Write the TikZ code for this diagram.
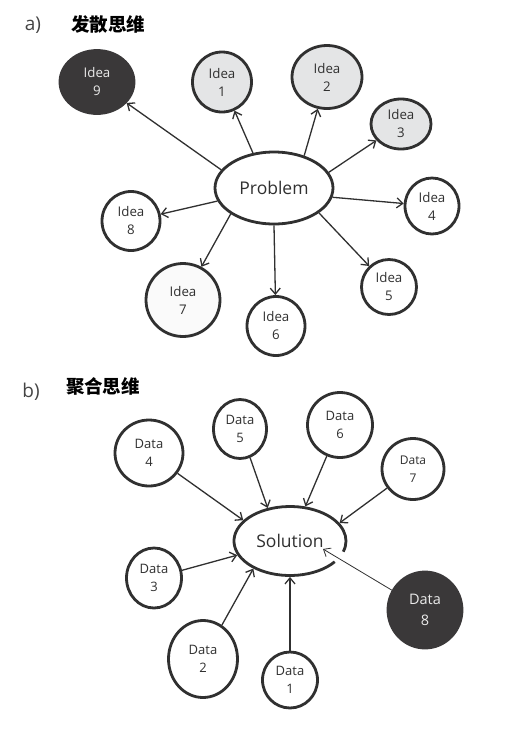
\documentclass[tikz,border=0pt]{standalone}
\usepackage{fontspec}
\setmainfont{Open Sans}
\newfontfamily\cjk{Noto Sans CJK SC}
\usetikzlibrary{shapes.geometric,arrows.meta}
\definecolor{ink}{HTML}{303030}
\definecolor{dark}{HTML}{3A3839}
\definecolor{lgray}{HTML}{E4E5E6}
\definecolor{offw}{HTML}{FAFAFA}
\begin{document}
\begin{tikzpicture}[x=1pt,y=-1pt,
  bub/.style={ellipse, draw=ink, line width=2.8pt, inner sep=0pt, align=center,
    text=ink, fill=white, font=\fontsize{13.3}{18}\selectfont},
  darkbub/.style={bub, fill=dark, draw=dark, text=white!92!black},
  graybub/.style={bub, fill=lgray},
  databub/.style={bub, font=\fontsize{13}{18.5}\selectfont},
  conn/.style={draw=ink, line width=1.3pt, -{Straight Barb[length=6pt,width=10pt]}},
  thinconn/.style={draw=ink, line width=0.8pt, -{Straight Barb[length=6pt,width=10pt]}},
  lbl/.style={text=ink!90, font=\fontsize{19}{20}\selectfont},
  ttl/.style={text=black, font=\cjk\bfseries\fontsize{18.5}{20}\selectfont}]
\path[use as bounding box, fill=white] (0,0) rectangle (516,732);

% ---------- a) ----------
\node[lbl] (la) at (33,25) {a)};
\node[ttl] (ta) at (108,24) {发散思维};

\node[bub, minimum width=118pt, minimum height=72pt, font=\fontsize{17.5}{20}\selectfont] (prob) at (274,188) {Problem};

\node[darkbub, minimum width=74pt, minimum height=63pt] (i9) at (97,82) {Idea\\9};
\node[graybub, minimum width=59pt, minimum height=60pt] (i1) at (222,82) {Idea\\1};
\node[graybub, minimum width=70pt, minimum height=63pt] (i2) at (327,77) {Idea\\2};
\node[graybub, minimum width=60pt, minimum height=50pt] (i3) at (401,124) {Idea\\3};
\node[bub, minimum width=54pt, minimum height=56pt] (i4) at (432,206) {Idea\\4};
\node[bub, minimum width=55pt, minimum height=55pt] (i5) at (389,287) {Idea\\5};
\node[bub, minimum width=58pt, minimum height=59pt] (i6) at (276,326) {Idea\\6};
\node[bub, fill=offw, minimum width=74pt, minimum height=73pt] (i7) at (183,300) {Idea\\7};
\node[bub, minimum width=58pt, minimum height=59pt] (i8) at (131,221) {Idea\\8};

\foreach \a/\t in {161/i9,121/i1,47/i2,16/i3,351/i4,331/i5,270/i6,211/i7,193/i8}
  \draw[conn] (prob.\a) -- (\t);

% ---------- b) ----------
\node[lbl] (lb) at (31,392) {b)};
\node[ttl] (tb) at (103,386) {聚合思维};

\node[ellipse, inner sep=0pt, line width=2.8pt, minimum width=112pt, minimum height=69pt,
      text=ink, font=\fontsize{17.5}{20}\selectfont] (sol) at (290,541) {Solution};
\draw[ink, line width=2.8pt] ([shift={(37:56 and 34.5)}]sol.center)
  arc[start angle=37, end angle=378, x radius=56, y radius=34.5];

\node[databub, minimum width=68pt, minimum height=66pt] (d4) at (149,453) {Data\\4};
\node[databub, minimum width=53pt, minimum height=59pt] (d5) at (240,429) {Data\\5};
\node[databub, minimum width=65pt, minimum height=65pt] (d6) at (340,425) {Data\\6};
\node[databub, minimum width=62pt, minimum height=61pt, font=\fontsize{12}{17.5}\selectfont] (d7) at (413,469) {Data\\7};
\node[databub, minimum width=55pt, minimum height=60pt] (d3) at (154,578) {Data\\3};
\node[databub, minimum width=69pt, minimum height=77pt] (d2) at (203,659) {Data\\2};
\node[databub, minimum width=55pt, minimum height=56pt] (d1) at (290,680) {Data\\1};
\node[darkbub, minimum width=74pt, minimum height=76pt, font=\fontsize{14.5}{21}\selectfont] (d8) at (425,610) {Data\\8};

\foreach \s/\a in {d4/156,d5/124,d6/66,d7/20,d3/195,d2/217,d1/270}
  \draw[conn] (\s) -- (sol.\a);
\coordinate (solin) at (323,549);
\draw[thinconn] (d8) -- (solin);
\end{tikzpicture}
\end{document}
